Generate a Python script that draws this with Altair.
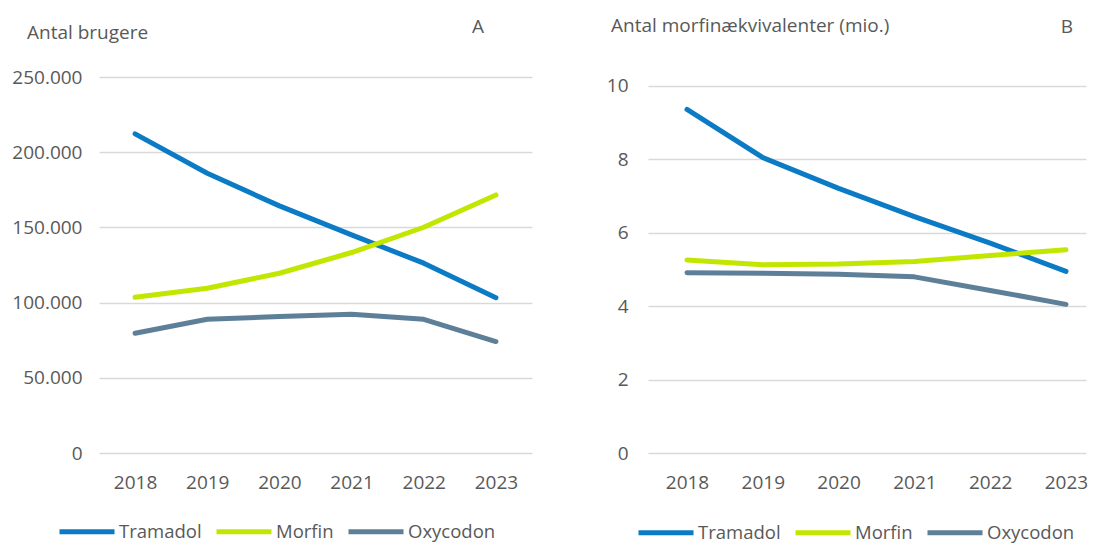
import altair as alt
import pandas as pd

years = [2018, 2019, 2020, 2021, 2022, 2023]
series = ["Tramadol", "Morfin", "Oxycodon"]
colors = ["#0A7BC4", "#C3E600", "#5D7F98"]

users_tramadol = [212200, 186000, 164300, 145000, 126200, 103300]
users_morfin = [103500, 109500, 119500, 133300, 150100, 171600]
users_oxycodon = [79600, 88900, 90700, 92200, 88900, 74100]

me_tramadol = [9.36, 8.05, 7.21, 6.44, 5.72, 4.95]
me_morfin = [5.26, 5.13, 5.15, 5.22, 5.38, 5.54]
me_oxycodon = [4.91, 4.90, 4.87, 4.80, 4.43, 4.05]

y_ticks_a = [0, 50000, 100000, 150000, 200000, 250000]
y_ticks_b = [0, 2, 4, 6, 8, 10]

FONT = "Open Sans"
FS = 19
TXT = "#595959"
GRID = "#D9D9D9"


def long_df(vals):
    rows = []
    for name, v in zip(series, vals):
        for yr, val in zip(years, v):
            rows.append({"year": yr, "serie": name, "value": val})
    return pd.DataFrame(rows)


df_a = long_df([users_tramadol, users_morfin, users_oxycodon])
df_b = long_df([me_tramadol, me_morfin, me_oxycodon])

one = pd.DataFrame({"k": [0]})


def panel(df, width, height, xdom, ydom, yticks, label_expr, ypad,
          title, tx, ty, letter, lx, ly, legx, legy):
    color = alt.Color(
        "serie:N",
        scale=alt.Scale(domain=series, range=colors),
        legend=alt.Legend(
            orient="none", legendX=legx, legendY=legy, direction="horizontal",
            title=None, symbolType="M-1,0H4.5", symbolStrokeWidth=5,
            symbolSize=400, labelFontSize=18.5, labelColor=TXT, labelFont=FONT,
            labelOffset=37, columnPadding=4, padding=0,
        ),
    )
    lines = alt.Chart(df).mark_line(strokeWidth=5, strokeCap="round", strokeJoin="round").encode(
        x=alt.X("year:Q", scale=alt.Scale(domain=xdom, nice=False, zero=False),
                axis=alt.Axis(values=years, format="d", title=None, grid=False,
                              domain=False, ticks=False, labelPadding=20,
                              labelFontSize=FS, labelColor=TXT, labelFont=FONT,
                              labelFlush=False, labelOverlap=False)),
        y=alt.Y("value:Q", scale=alt.Scale(domain=ydom, nice=False),
                axis=alt.Axis(values=yticks, title=None, grid=True, gridColor=GRID,
                              gridWidth=1.5, domain=False, ticks=False,
                              labelPadding=ypad, labelFontSize=FS, labelColor=TXT,
                              labelFont=FONT, labelExpr=label_expr)),
        color=color,
        order=alt.Order("year:Q"),
    )
    t1 = alt.Chart(one).mark_text(align="left", baseline="middle", fontSize=FS,
                                  font=FONT, color=TXT).encode(
        x=alt.value(tx), y=alt.value(ty), text=alt.value(title))
    t2 = alt.Chart(one).mark_text(align="center", baseline="middle", fontSize=FS,
                                  font=FONT, color=TXT).encode(
        x=alt.value(lx), y=alt.value(ly), text=alt.value(letter))
    return alt.layer(lines, t1, t2).properties(width=width, height=height)


pa = panel(df_a, 433, 376, [2017.5, 2023.5], [0, 250000], y_ticks_a,
           "replace(format(datum.value, ','), ',', '.')", 17,
           "Antal brugere", -72, -44, "A", 379, -50, -42, 442)
pb = panel(df_b, 438, 376, [2017.4855, 2023.264], [0, 10.245], y_ticks_b,
           "format(datum.value, 'd')", 20,
           "Antal morfinækvivalenter (mio.)", -37, -51, "B", 419, -50, -12, 443)

chart = alt.hconcat(pa, pb, spacing=74).resolve_scale(
    x="independent", y="independent", color="independent"
).resolve_legend(color="independent").properties(
    padding={"left": 3, "top": 9, "right": 0, "bottom": 0}
).configure(font=FONT).configure_view(stroke=None)

chart.save("out.html", embed_options={"renderer": "svg", "actions": False})
